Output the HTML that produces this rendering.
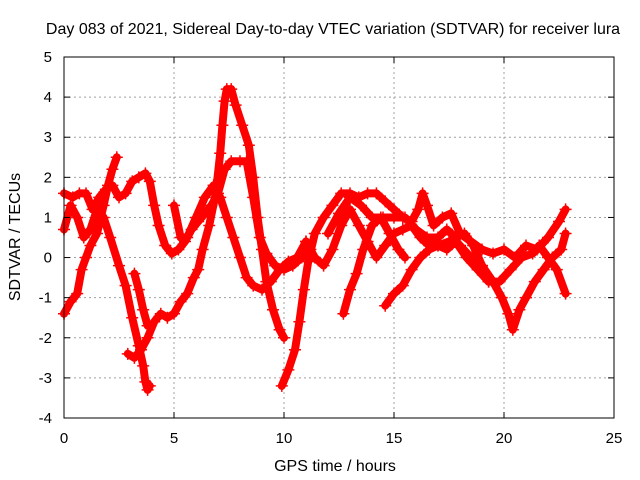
<!DOCTYPE html>
<html><head><meta charset="utf-8"><style>
body{margin:0;background:#fff}
svg{display:block;font-family:"Liberation Sans",sans-serif}
</style></head><body>
<svg id="chart" width="640" height="480">
<text x="333" y="34" text-anchor="middle" font-size="16">Day 083 of 2021, Sidereal Day-to-day VTEC variation (SDTVAR) for receiver lura</text>
<text x="335" y="471" text-anchor="middle" font-size="16">GPS time / hours</text>
<text transform="translate(20,237) rotate(-90)" text-anchor="middle" font-size="16">SDTVAR / TECUs</text>
<g id="grid"></g><g id="series"></g><g id="axes"></g>
</svg>
<script>
const xTicks=[0,5,10,15,20,25];
const yTicks=[-4,-3,-2,-1,0,1,2,3,4,5];
const traceA=[[0,-1.4],[0.3,-1.1],[0.6,-0.9],[0.8,-0.3],[1.0,0],[1.2,0.3],[1.5,0.6],[1.8,1.3],[2.0,1.8],[2.2,2.2],[2.4,2.5]];
const traceB=[[0,1.6],[0.4,1.5],[0.7,1.6],[1.0,1.6],[1.3,1.2],[1.6,1.5],[1.9,1.7],[2.2,1.8],[2.5,1.5],[2.8,1.6],[3.1,1.9],[3.4,2.0],[3.7,2.1],[3.9,1.9],[4.1,1.3],[4.3,0.8],[4.6,0.3],[4.9,0.1],[5.2,0.2],[5.5,0.4],[5.8,0.7],[6.1,0.9],[6.4,1.1],[6.7,1.3],[7.0,1.6],[7.3,2.2],[7.6,2.4],[8.0,2.4],[8.3,2.4],[8.6,1.5],[8.9,0.5],[9.2,0.1],[9.6,-0.2],[10.0,-0.3],[10.4,-0.2],[10.8,0.0],[11.2,0.2]];
const traceC=[[0,0.7],[0.3,1.3],[0.6,1.0],[0.9,0.5],[1.2,0.7],[1.5,1.2],[1.8,1.0],[2.1,0.5],[2.5,-0.2],[2.8,-0.7],[3.1,-1.5],[3.4,-2.2],[3.6,-2.7],[3.7,-3.1],[3.8,-3.3],[3.9,-3.2]];
const traceD=[[2.9,-2.4],[3.2,-2.5],[3.5,-2.3],[3.8,-2.0],[4.1,-1.6],[4.4,-1.4],[4.7,-1.5],[5.0,-1.4],[5.3,-1.1],[5.6,-0.9],[5.9,-0.5],[6.1,-0.3],[6.3,0.2],[6.6,0.8],[6.9,1.6],[7.1,2.6],[7.2,3.3],[7.3,3.9],[7.4,4.2],[7.6,4.2],[7.8,3.8],[8.1,3.3],[8.4,2.8],[8.6,2.0],[8.8,1.0],[9.0,0.2],[9.2,-0.6],[9.5,-1.3],[9.8,-1.8],[10.0,-2.0]];
const traceE=[[3.2,-0.4],[3.4,-0.8],[3.6,-1.3],[3.8,-1.7]];
const traceF=[[5.0,1.3],[5.3,0.5],[5.6,0.5],[6.0,1.0],[6.4,1.5],[6.8,1.8],[7.1,1.5],[7.4,1.0],[7.7,0.5],[8.0,0.0],[8.3,-0.5],[8.6,-0.7],[9.0,-0.8],[9.4,-0.6],[9.8,-0.3],[10.2,-0.1],[10.6,0.0],[11.0,0.4]];
const traceG=[[9.9,-3.2],[10.2,-2.8],[10.5,-2.3],[10.7,-1.6],[10.9,-0.8],[11.1,-0.1],[11.4,0.6],[11.8,1.0],[12.2,1.3],[12.6,1.6],[13.0,1.6],[13.4,1.5],[13.8,1.6],[14.2,1.6],[14.6,1.4],[15.0,1.2],[15.4,1.0],[15.8,0.9],[16.1,1.2],[16.3,1.6],[16.5,1.3],[16.8,0.8],[17.2,1.0],[17.6,1.1],[18.0,0.6],[18.5,0.4],[19.0,0.2],[19.5,0.1],[20.0,0.2],[20.5,0.0],[21.0,0.3],[21.5,0.2],[22.0,0.5],[22.5,0.9],[22.8,1.2]];
const traceH=[[11.0,0.4],[11.4,0.0],[11.8,-0.2],[12.2,0.2],[12.6,0.8],[13.0,1.2],[13.4,0.8],[13.8,0.4],[14.2,0.0],[14.6,0.3],[15.0,0.6],[15.4,0.7],[15.8,0.8],[16.2,0.5],[16.6,0.3],[17.0,0.3],[17.5,0.4],[18.0,0.3],[18.5,0.0],[19.0,-0.2],[19.5,-0.6],[19.9,-1.0],[20.2,-1.4],[20.4,-1.8],[20.7,-1.3],[21.0,-1.0],[21.4,-0.6],[21.8,-0.3],[22.2,0.0],[22.6,0.2],[22.8,0.6]];
const traceI=[[12.7,-1.4],[13.0,-0.8],[13.3,-0.4],[13.6,0.2],[14.0,0.8],[14.4,1.0],[14.8,0.6],[15.2,0.2],[15.5,0.0]];
const traceJ=[[14.6,-1.2],[15.0,-0.9],[15.4,-0.7],[15.8,-0.3],[16.2,0.0],[16.6,0.2],[17.0,0.3],[17.4,0.2],[17.8,0.4],[18.3,0.0],[18.8,-0.3],[19.3,-0.6],[19.8,-0.6],[20.3,-0.3],[20.8,0.0],[21.3,0.1],[21.6,0.3],[22.0,0.0],[22.4,-0.3],[22.8,-0.9]];
const traceK=[[12.0,0.6],[12.5,1.1],[13.0,1.5],[13.5,1.3],[14.0,1.0],[14.5,1.0],[15.0,1.0],[15.5,1.0],[16.0,0.7],[16.5,0.5],[17.0,0.5],[17.4,0.7],[17.8,0.5],[18.2,0.6],[18.6,0.3],[19.0,-0.2],[19.3,-0.6]];
const traces=[traceA,traceB,traceC,traceD,traceE,traceF,traceG,traceH,traceI,traceJ,traceK];

const L=64,R=614,T=57,B=418;
const X=h=>L+(h-0)/(25-0)*(R-L);
const Y=v=>B-(v+4)/(5+4)*(B-T);
const NS="http://www.w3.org/2000/svg";
function mk(tag,attrs,parent){const e=document.createElementNS(NS,tag);for(const k in attrs)e.setAttribute(k,attrs[k]);parent.appendChild(e);return e;}
const grid=document.getElementById('grid'),ser=document.getElementById('series'),ax=document.getElementById('axes');
xTicks.forEach(t=>{
  const x=X(t);
  if(t>0&&t<25){const g=mk('line',{x1:x,x2:x,y1:T,y2:B,stroke:'#a0a0a0','stroke-dasharray':'2,3'},grid);
  
  }
  mk('line',{x1:x,x2:x,y1:B,y2:B-6,stroke:'#000'},ax);
  mk('line',{x1:x,x2:x,y1:T,y2:T+6,stroke:'#000'},ax);
  const tx=mk('text',{x:x,y:443,'text-anchor':'middle','font-size':15},ax);tx.textContent=t;
  
  
});
yTicks.forEach(t=>{
  const y=Y(t);
  if(t>-4&&t<5){const g=mk('line',{x1:L,x2:R,y1:y,y2:y,stroke:'#a0a0a0','stroke-dasharray':'2,3'},grid);
  
  }
  mk('line',{x1:L,x2:L+6,y1:y,y2:y,stroke:'#000'},ax);
  mk('line',{x1:R,x2:R-6,y1:y,y2:y,stroke:'#000'},ax);
  const tx=mk('text',{x:52,y:y+5,'text-anchor':'end','font-size':15},ax);tx.textContent=t;
  
  
});
const fr=mk('rect',{x:L,y:T,width:R-L,height:B-T,fill:'none',stroke:'#000'},ax);


traces.forEach((tr,i)=>{
  const pl=mk('polyline',{points:tr.map(p=>X(p[0])+','+Y(p[1])).join(' '),fill:'none',stroke:'#ff0000','stroke-width':8,'stroke-linejoin':'round','stroke-linecap':'round'},ser);
  
  
  tr.forEach(p=>{
    const x=X(p[0]),y=Y(p[1]);
    const m=mk('path',{d:`M${x-6},${y}H${x+6}M${x},${y-6}V${y+6}`,stroke:'#ff0000','stroke-width':1.5},ser);
    
    
  });
});
</script>
</body></html>
